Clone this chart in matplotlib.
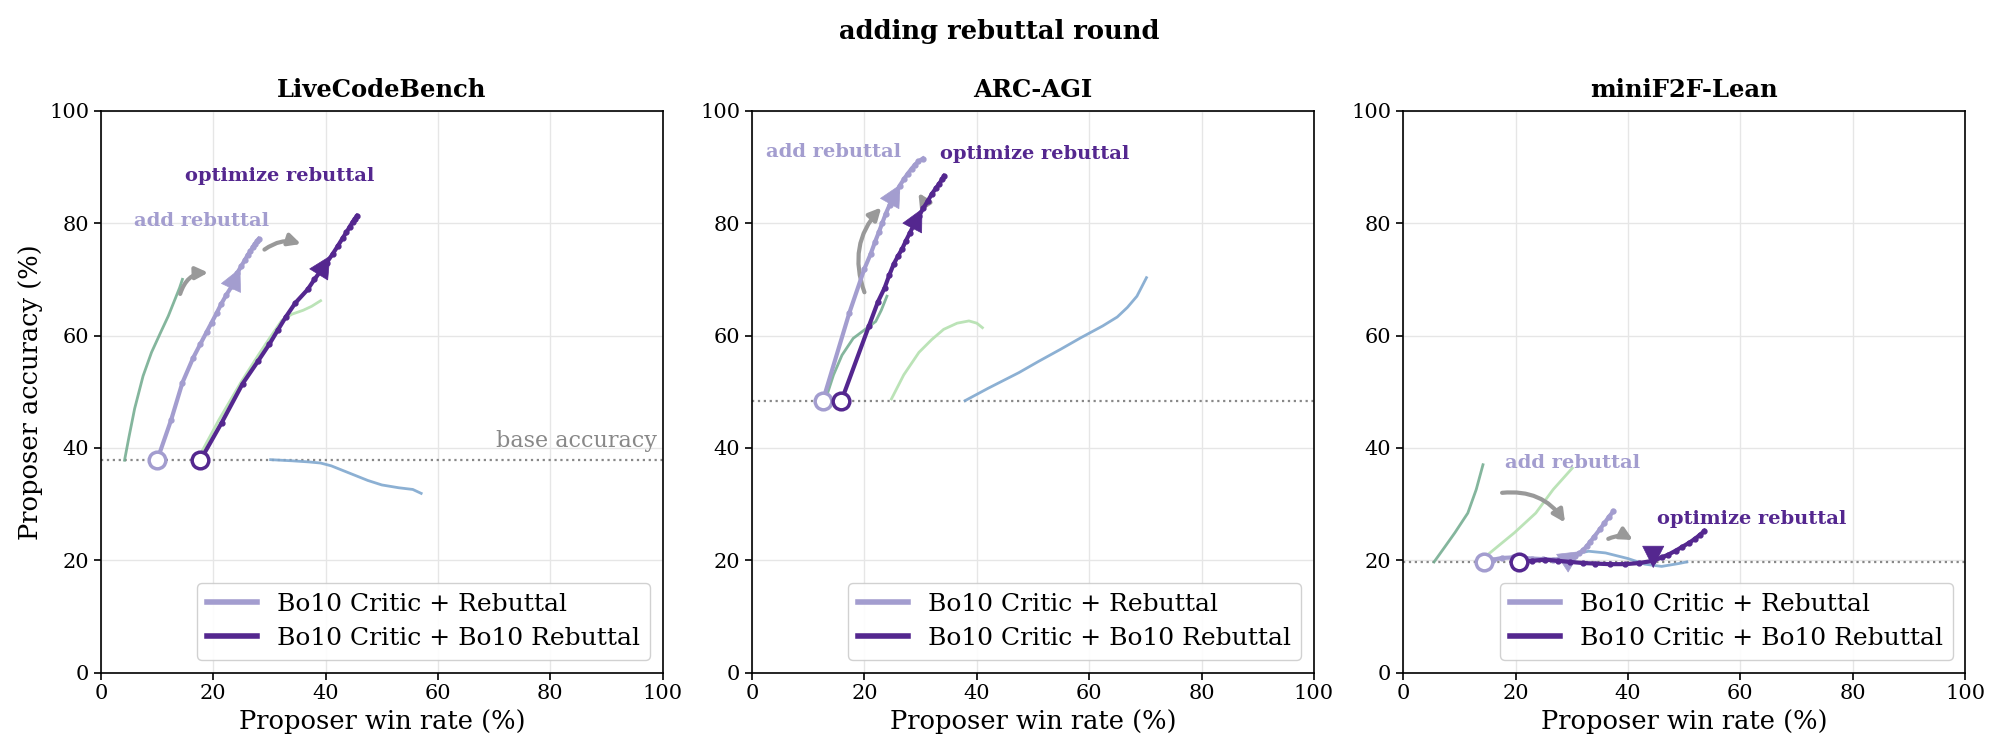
import matplotlib
matplotlib.use("Agg")
import matplotlib.pyplot as plt
from matplotlib.lines import Line2D

plt.rcParams['font.family'] = ['DejaVu Serif']

LIGHT = '#a39dcf'
DARK = '#54278f'
GREEN_D = '#6fa98c'
GREEN_L = '#b4e0af'
BLUE = '#80a8cf'
GRAY = '#999999'

titles = ["LiveCodeBench", "ARC-AGI", "miniF2F-Lean"]
base_acc = [37.8, 48.4, 19.7]

# Bo10 Critic + Rebuttal (light purple)
light_x = [
    [10.0, 12.5, 14.5, 16.4, 17.7, 18.8, 19.7, 20.6, 21.4, 22.3, 23.3, 24.3, 25.0, 25.6, 26.1, 26.6, 27.0, 27.4, 27.8, 28.1],
    [12.6, 17.3, 20.0, 21.1, 21.9, 22.6, 23.2, 23.8, 24.5, 25.0, 25.6, 26.3, 27.0, 27.7, 28.4, 29.0, 29.6, 30.4],
    [14.4, 16.0, 17.6, 19.5, 21.4, 23.0, 24.8, 26.7, 28.5, 30.5, 31.3, 32.0, 32.7, 33.3, 34.0, 35.0, 35.8, 36.6, 37.4],
]
light_y = [
    [37.8, 45.0, 51.6, 56.0, 58.5, 60.6, 62.3, 64.0, 65.6, 67.2, 68.8, 71.2, 72.4, 73.4, 74.3, 75.0, 75.7, 76.3, 76.8, 77.2],
    [48.4, 64.0, 71.9, 74.5, 76.7, 78.5, 80.1, 81.7, 83.3, 84.4, 85.5, 86.7, 87.8, 88.8, 89.7, 90.4, 91.0, 91.5],
    [19.7, 20.1, 20.4, 20.5, 20.4, 20.3, 20.2, 20.1, 20.3, 20.7, 21.2, 21.8, 22.5, 23.3, 24.2, 25.5, 26.6, 27.7, 28.7],
]

# Bo10 Critic + Bo10 Rebuttal (dark purple)
dark_x = [
    [17.7, 21.5, 25.2, 28.0, 30.0, 31.5, 32.9, 34.6, 36.8, 38.0, 39.2, 40.2, 41.3, 42.2, 43.0, 43.7, 44.3, 44.8, 45.2, 45.6],
    [15.9, 20.8, 22.4, 23.6, 24.4, 25.2, 26.0, 26.7, 27.4, 28.1, 28.8, 29.7, 30.5, 31.3, 32.0, 32.7, 33.3, 33.8, 34.2],
    [20.6, 23.0, 25.2, 27.5, 29.7, 32.0, 34.2, 36.8, 39.5, 42.0, 44.5, 46.0, 47.2, 48.5, 49.7, 50.9, 51.9, 52.8, 53.6],
]
dark_y = [
    [37.8, 44.5, 51.4, 55.5, 58.5, 61.0, 63.3, 65.8, 68.2, 70.0, 71.6, 73.0, 74.6, 76.0, 77.3, 78.4, 79.4, 80.2, 80.8, 81.3],
    [48.4, 61.7, 66.0, 68.5, 70.7, 72.7, 74.2, 75.4, 76.9, 78.3, 79.7, 81.3, 82.7, 84.0, 85.2, 86.2, 87.0, 87.8, 88.4],
    [19.6, 19.9, 20.1, 19.9, 19.7, 19.5, 19.4, 19.3, 19.3, 19.5, 19.9, 20.5, 21.0, 21.7, 22.4, 23.1, 23.8, 24.5, 25.2],
]

# background reference curves
green_d_x = [
    [4.2, 5.0, 6.0, 7.5, 9.0, 10.6, 12.0, 13.2, 14.0, 14.5],
    [13.0, 14.5, 16.0, 18.0, 20.0, 22.0, 23.0, 24.0],
    [5.5, 7.5, 9.2, 11.5, 13.0, 14.2],
]
green_d_y = [
    [37.8, 42.0, 47.0, 52.8, 57.0, 60.5, 63.5, 66.5, 68.5, 70.0],
    [48.4, 53.0, 56.5, 59.5, 61.0, 62.5, 64.5, 67.0],
    [19.7, 22.5, 24.9, 28.4, 32.6, 37.0],
]
green_l_x = [
    [17.5, 21.0, 25.0, 28.0, 30.0, 32.2, 34.0, 36.0, 37.5, 39.1],
    [24.8, 27.0, 29.7, 32.0, 34.1, 36.5, 38.6, 40.0, 41.0],
    [14.7, 17.0, 19.8, 23.6, 26.7, 30.1],
]
green_l_y = [
    [38.5, 45.0, 51.8, 56.5, 59.5, 62.7, 63.8, 64.5, 65.2, 66.2],
    [48.7, 53.0, 57.0, 59.3, 61.1, 62.2, 62.6, 62.2, 61.4],
    [20.7, 22.6, 24.9, 28.4, 32.6, 36.4],
]
blue_x = [
    [30.2, 34.0, 37.0, 39.1, 41.0, 43.0, 45.0, 47.5, 50.0, 53.0, 55.5, 57.0],
    [37.9, 42.0, 47.5, 51.0, 55.0, 58.5, 62.4, 65.0, 66.8, 68.5, 70.2],
    [27.0, 30.0, 33.0, 36.0, 40.0, 43.0, 46.0, 49.0, 50.5],
]
blue_y = [
    [37.9, 37.7, 37.5, 37.3, 36.8, 36.0, 35.2, 34.2, 33.4, 32.9, 32.6, 31.9],
    [48.4, 50.6, 53.4, 55.4, 57.6, 59.6, 61.7, 63.3, 65.0, 67.0, 70.3],
    [19.8, 21.0, 21.6, 21.3, 20.3, 19.3, 18.9, 19.4, 19.7],
]

# arrowheads on the two rebuttal curves: (tail, tip)
light_head = [((23.3, 68.8), (24.8, 72.0)), ((25.0, 84.4), (26.4, 86.9)), ((29.6, 20.3), (31.6, 21.6))]
dark_head = [((39.2, 71.6), (40.8, 74.2)), ((28.8, 79.7), (30.3, 82.6)), ((44.5, 20.6), (44.5, 18.6))]

# gray curved arrows: (start, end, rad)
gray_arrows = [
    [((14.1, 67.4), (19.1, 71.2), -0.35), ((29.1, 75.3), (35.6, 76.3), -0.25)],
    [((20.0, 67.7), (23.0, 82.8), -0.3), ((31.0, 83.2), (29.6, 85.4), 0.0)],
    [((17.6, 32.0), (28.8, 26.7), -0.3), ((36.5, 23.8), (40.9, 23.6), -0.25)],
]

# text positions (x, y) for the "add rebuttal" / "optimize rebuttal" labels
add_pos = [(17.9, 80.3), (14.5, 92.6), (30.1, 37.3)]
opt_pos = [(31.8, 88.4), (50.3, 92.4), (62.1, 27.4)]

fig, axes = plt.subplots(1, 3, figsize=(19.99, 7.54), dpi=100)
fig.subplots_adjust(left=0.0505, right=0.983, top=0.853, bottom=0.108, wspace=0.159)

for i, ax in enumerate(axes):
    ax.grid(True, color='#e6e6e6', lw=1)
    ax.set_axisbelow(True)
    ax.axhline(base_acc[i], color='#888888', ls=':', lw=1.6, zorder=1)

    ax.plot(green_d_x[i], green_d_y[i], color=GREEN_D, lw=2, alpha=0.85, zorder=2)
    ax.plot(green_l_x[i], green_l_y[i], color=GREEN_L, lw=2, alpha=0.9, zorder=2)
    ax.plot(blue_x[i], blue_y[i], color=BLUE, lw=2, alpha=0.9, zorder=2)

    for (s, e, rad) in gray_arrows[i]:
        ax.annotate('', xy=e, xytext=s,
                    arrowprops=dict(arrowstyle='-|>', color=GRAY, lw=3, mutation_scale=18,
                                    shrinkA=0, shrinkB=0,
                                    connectionstyle=f'arc3,rad={rad}'), zorder=3)

    ax.plot(light_x[i], light_y[i], color=LIGHT, lw=3, marker='o', ms=3.5, zorder=4)
    ax.plot(dark_x[i], dark_y[i], color=DARK, lw=3, marker='o', ms=3.5, zorder=5)
    ax.plot(light_x[i][0], light_y[i][0], marker='o', ms=12, mfc='white', mec=LIGHT, mew=2.5, zorder=6)
    ax.plot(dark_x[i][0], dark_y[i][0], marker='o', ms=12, mfc='white', mec=DARK, mew=2.5, zorder=6)

    for head, col, z in [(light_head[i], LIGHT, 4.5), (dark_head[i], DARK, 5.5)]:
        ax.annotate('', xy=head[1], xytext=head[0],
                    arrowprops=dict(arrowstyle='-|>', color=col, lw=0.5, mutation_scale=38,
                                    shrinkA=0, shrinkB=0), zorder=z)

    ax.text(add_pos[i][0], add_pos[i][1], "add rebuttal", color=LIGHT, fontsize=14,
            fontweight='bold', ha='center', va='center', zorder=7)
    ax.text(opt_pos[i][0], opt_pos[i][1], "optimize rebuttal", color=DARK, fontsize=14,
            fontweight='bold', ha='center', va='center', zorder=7)

    ax.set_xlim(0, 100)
    ax.set_ylim(0, 100)
    ax.set_xticks(range(0, 101, 20))
    ax.set_yticks(range(0, 101, 20))
    ax.tick_params(labelsize=15, length=5, width=1.2)
    for sp in ax.spines.values():
        sp.set_linewidth(1.2)
    ax.set_title(titles[i], fontsize=17.5, fontweight='bold', pad=10)
    ax.set_xlabel("Proposer win rate (%)", fontsize=18.5)

    handles = [Line2D([], [], color=LIGHT, lw=4), Line2D([], [], color=DARK, lw=4)]
    ax.legend(handles, ["Bo10 Critic + Rebuttal", "Bo10 Critic + Bo10 Rebuttal"],
              loc='lower right', fontsize=18, handlelength=2.0, framealpha=0.9,
              borderpad=0.4, labelspacing=0.45)

axes[0].set_ylabel("Proposer accuracy (%)", fontsize=18.5)
axes[0].text(99, base_acc[0] + 1.5, "base accuracy", color='#888888', fontsize=16,
             ha='right', va='bottom')

fig.suptitle("adding rebuttal round", fontsize=18.5, fontweight='bold', y=0.975)

fig.savefig("out.png", dpi=100)
